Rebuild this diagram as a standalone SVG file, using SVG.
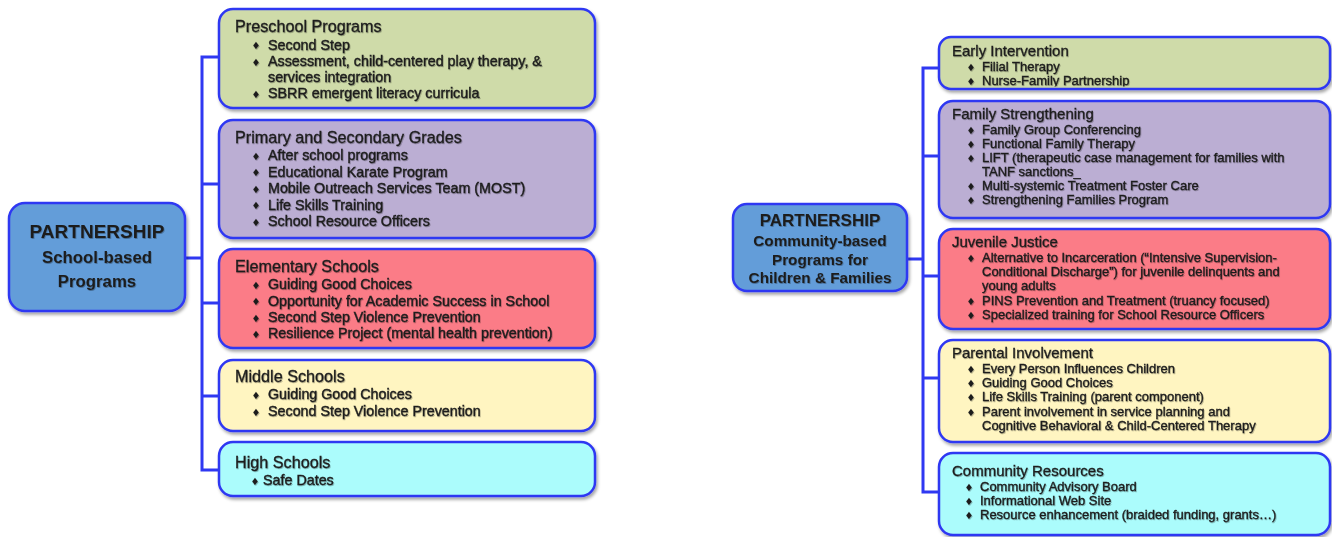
<svg xmlns="http://www.w3.org/2000/svg" width="1332" height="537" viewBox="0 0 1332 537">
<defs>
<style>
.box{stroke:#2f38f2;stroke-width:2.5;filter:url(#sh)}
.conn{stroke:#2f38f2;stroke-width:3;fill:none;stroke-linecap:square}
text{font-family:"Liberation Sans",Arial,Helvetica,sans-serif;fill:#1c1c1c}
.tx{filter:url(#ts)}
.lt{font-size:16.2px;stroke:#1c1c1c;stroke-width:0.3}
.lb{font-size:14.3px;stroke:#1c1c1c;stroke-width:0.4}
.rt{font-size:15px;stroke:#1c1c1c;stroke-width:0.3}
.rb{font-size:13px;stroke:#1c1c1c;stroke-width:0.35}
.dm{font-family:"DejaVu Sans",sans-serif;font-size:10px;text-anchor:middle}
.rootA{font-size:19px;font-weight:bold;text-anchor:middle}
.rootB{font-size:16.8px;font-weight:bold;text-anchor:middle}
.rootC{font-size:17px;font-weight:bold;text-anchor:middle}
.rootD{font-size:15.3px;font-weight:bold;text-anchor:middle}
.blue{fill:#649dd9}
.green{fill:#cfdba9}
.purple{fill:#bbaed3}
.red{fill:#fb7b87}
.yellow{fill:#fff5c1}
.cyan{fill:#abfcfc}
</style>
<filter id="sh" x="-5%" y="-10%" width="115%" height="130%">
<feDropShadow dx="1.5" dy="2.5" stdDeviation="1.5" flood-color="#000" flood-opacity="0.35"/>
</filter>
<filter id="ts" x="-5%" y="-20%" width="110%" height="150%">
<feDropShadow dx="0.7" dy="1" stdDeviation="0.6" flood-color="#000" flood-opacity="0.3"/>
</filter>
<clipPath id="clipEarly"><rect x="939" y="37" width="391" height="49.5"/></clipPath>
</defs>

<g id="connectors">
<path class="conn" d="M185 258H202M202 57V470M202 57H219M202 184H219M202 303H219M202 396H219M202 470H219"/>
<path class="conn" d="M907 259H923M923 68V492M923 68H939M923 156H939M923 276H939M923 378H939M923 492H939"/>
</g>

<g id="root-school">
<rect class="box blue" x="9" y="203" width="176" height="108" rx="16"/>
<g class="tx">
<text class="rootA" x="97" y="238">PARTNERSHIP</text>
<text class="rootB" x="97" y="263">School-based</text>
<text class="rootB" x="97" y="287">Programs</text>
</g>
</g>

<g id="preschool">
<rect class="box green" x="219" y="9" width="376" height="99" rx="14"/>
<g class="tx">
<text class="lt" x="235" y="32">Preschool Programs</text>
<text class="dm" x="256" y="49">♦</text><text class="lb" x="268" y="49.5">Second Step</text>
<text class="dm" x="256" y="65.5">♦</text><text class="lb" x="268" y="66">Assessment, child-centered play therapy, &amp;</text>
<text class="lb" x="268" y="82">services integration</text>
<text class="dm" x="256" y="97.5">♦</text><text class="lb" x="268" y="98">SBRR emergent literacy curricula</text>
</g>
</g>

<g id="primary-secondary">
<rect class="box purple" x="219" y="120" width="376" height="118" rx="14"/>
<g class="tx">
<text class="lt" x="235" y="143">Primary and Secondary Grades</text>
<text class="dm" x="256" y="159.5">♦</text><text class="lb" x="268" y="160">After school programs</text>
<text class="dm" x="256" y="176">♦</text><text class="lb" x="268" y="176.5">Educational Karate Program</text>
<text class="dm" x="256" y="192.5">♦</text><text class="lb" x="268" y="193">Mobile Outreach Services Team (MOST)</text>
<text class="dm" x="256" y="209">♦</text><text class="lb" x="268" y="209.5">Life Skills Training</text>
<text class="dm" x="256" y="225.5">♦</text><text class="lb" x="268" y="226">School Resource Officers</text>
</g>
</g>

<g id="elementary">
<rect class="box red" x="219" y="249" width="376" height="99" rx="14"/>
<g class="tx">
<text class="lt" x="235" y="272">Elementary Schools</text>
<text class="dm" x="256" y="288.5">♦</text><text class="lb" x="268" y="289">Guiding Good Choices</text>
<text class="dm" x="256" y="305">♦</text><text class="lb" x="268" y="305.5">Opportunity for Academic Success in School</text>
<text class="dm" x="256" y="321.5">♦</text><text class="lb" x="268" y="322">Second Step Violence Prevention</text>
<text class="dm" x="256" y="337.5">♦</text><text class="lb" x="268" y="338">Resilience Project (mental health prevention)</text>
</g>
</g>

<g id="middle">
<rect class="box yellow" x="219" y="360" width="376" height="71" rx="14"/>
<g class="tx">
<text class="lt" x="235" y="382">Middle Schools</text>
<text class="dm" x="256" y="398.5">♦</text><text class="lb" x="268" y="399">Guiding Good Choices</text>
<text class="dm" x="256" y="415.5">♦</text><text class="lb" x="268" y="416">Second Step Violence Prevention</text>
</g>
</g>

<g id="high">
<rect class="box cyan" x="219" y="442" width="376" height="54" rx="14"/>
<g class="tx">
<text class="lt" x="235" y="468">High Schools</text>
<text class="dm" x="255" y="484.5">♦</text><text class="lb" x="263" y="485">Safe Dates</text>
</g>
</g>

<g id="root-community">
<rect class="box blue" x="733" y="204" width="174" height="87" rx="14"/>
<g class="tx">
<text class="rootC" x="820" y="226">PARTNERSHIP</text>
<text class="rootD" x="820" y="246">Community-based</text>
<text class="rootD" x="820" y="265">Programs for</text>
<text class="rootD" x="820" y="283">Children &amp; Families</text>
</g>
</g>

<g id="early-intervention">
<rect class="box green" x="939" y="37" width="391" height="52" rx="12"/>
<g class="tx" clip-path="url(#clipEarly)">
<text class="rt" x="952" y="56">Early Intervention</text>
<text class="dm" x="971" y="70.5">♦</text><text class="rb" x="982" y="71">Filial Therapy</text>
<text class="dm" x="971" y="84.5">♦</text><text class="rb" x="982" y="85">Nurse-Family Partnership</text>
</g>
</g>

<g id="family-strengthening">
<rect class="box purple" x="939" y="101" width="391" height="117" rx="14"/>
<g class="tx">
<text class="rt" x="952" y="119">Family Strengthening</text>
<text class="dm" x="971" y="133.5">♦</text><text class="rb" x="982" y="134">Family Group Conferencing</text>
<text class="dm" x="971" y="147.5">♦</text><text class="rb" x="982" y="148">Functional Family Therapy</text>
<text class="dm" x="971" y="161.5">♦</text><text class="rb" x="982" y="162">LIFT (therapeutic case management for families with</text>
<text class="rb" x="982" y="176">TANF sanctions_</text>
<text class="dm" x="971" y="189.5">♦</text><text class="rb" x="982" y="190">Multi-systemic Treatment Foster Care</text>
<text class="dm" x="971" y="203.5">♦</text><text class="rb" x="982" y="204">Strengthening Families Program</text>
</g>
</g>

<g id="juvenile-justice">
<rect class="box red" x="939" y="229" width="391" height="100" rx="14"/>
<g class="tx">
<text class="rt" x="952" y="247">Juvenile Justice</text>
<text class="dm" x="971" y="261.5">♦</text><text class="rb" x="982" y="262">Alternative to Incarceration (“Intensive Supervision-</text>
<text class="rb" x="982" y="276">Conditional Discharge”) for juvenile delinquents and</text>
<text class="rb" x="982" y="290">young adults</text>
<text class="dm" x="971" y="304.5">♦</text><text class="rb" x="982" y="305">PINS Prevention and Treatment (truancy focused)</text>
<text class="dm" x="971" y="318.5">♦</text><text class="rb" x="982" y="319">Specialized training for School Resource Officers</text>
</g>
</g>

<g id="parental-involvement">
<rect class="box yellow" x="939" y="340" width="391" height="102" rx="14"/>
<g class="tx">
<text class="rt" x="952" y="358">Parental Involvement</text>
<text class="dm" x="971" y="372.5">♦</text><text class="rb" x="982" y="373">Every Person Influences Children</text>
<text class="dm" x="971" y="386.5">♦</text><text class="rb" x="982" y="387">Guiding Good Choices</text>
<text class="dm" x="971" y="400.5">♦</text><text class="rb" x="982" y="401">Life Skills Training (parent component)</text>
<text class="dm" x="971" y="415.5">♦</text><text class="rb" x="982" y="416">Parent involvement in service planning and</text>
<text class="rb" x="982" y="430">Cognitive Behavioral &amp; Child-Centered Therapy</text>
</g>
</g>

<g id="community-resources">
<rect class="box cyan" x="939" y="453" width="391" height="82" rx="14"/>
<g class="tx">
<text class="rt" x="952" y="476">Community Resources</text>
<text class="dm" x="969" y="490.5">♦</text><text class="rb" x="980" y="491">Community Advisory Board</text>
<text class="dm" x="969" y="504.5">♦</text><text class="rb" x="980" y="505">Informational Web Site</text>
<text class="dm" x="969" y="518.5">♦</text><text class="rb" x="980" y="519">Resource enhancement (braided funding, grants…)</text>
</g>
</g>
</svg>
